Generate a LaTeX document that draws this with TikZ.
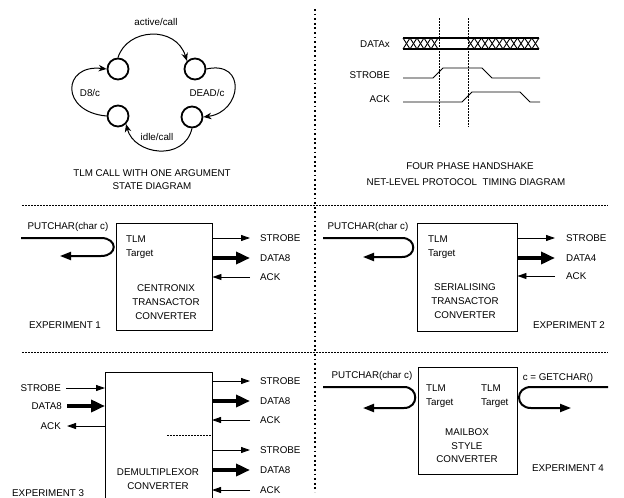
\documentclass[tikz,border=0pt]{standalone}
\usepackage{fontspec}
\setmainfont{Liberation Sans}
\usetikzlibrary{arrows.meta}
\newcommand{\lblfont}{\fontsize{9.8}{11}\selectfont}
\tikzset{
  lbl/.style={inner sep=0pt, text height=7pt, text depth=0pt, font=\lblfont},
  state/.style={circle, draw, line width=1.8pt, minimum size=21pt, inner sep=0pt},
  trans/.style={line width=1pt, -{Stealth[length=8pt,width=6.5pt]}},
  conv/.style={draw, line width=0.9pt, inner sep=0pt},
  thinarr/.style={line width=0.9pt, -{Triangle[length=9pt,width=6pt]}},
  thickarr/.style={line width=3.5pt, -{Triangle[length=14pt,width=12pt]}},
  uturn/.style={line width=2pt, -{Triangle[length=11pt,width=8pt]}},
  bigdots/.style={line width=1.8pt, dash pattern=on 1.8pt off 2.8pt},
  smalldots/.style={line width=0.9pt, dash pattern=on 1.5pt off 1.5pt},
  sig/.style={line width=0.9pt},
}
\begin{document}
\begin{tikzpicture}[x=1pt,y=-1pt]
\useasboundingbox (0,0) rectangle (624,498);

% ---------- dividers
\coordinate (vt) at (315,9);
\coordinate (vb) at (315,492);
\draw[bigdots] (vt) -- (vb);
\coordinate (h1l) at (22,205); \coordinate (h1r) at (608,205);
\coordinate (h2l) at (22,352); \coordinate (h2r) at (608,352);
\draw[smalldots] (h1l) -- (h1r);
\draw[smalldots] (h2l) -- (h2r);

% ---------- state diagram
\node[state] (c1) at (118,69) {};
\node[state] (c2) at (195,69) {};
\node[state] (c3) at (118,116) {};
\node[state] (c4) at (192,117) {};
\draw[trans] (c1.north) .. controls (127,28) and (176,25) .. (c2.north west);
\draw[trans] (c2.east) .. controls (247,60) and (242,112) .. (c4.east);
\draw[trans] (c4.south) .. controls (184,162) and (134,155) .. (c3.south east);
\draw[trans] (c3.west) .. controls (60,112) and (62,64) .. (c1.west);
\node[lbl] (l1) at (156,22) {active/call};
\node[lbl] (l2) at (207,93) {DEAD/c};
\node[lbl] (l3) at (90,93) {D8/c};
\node[lbl] (l4) at (157,137) {idle/call};
\node[lbl] (t1) at (152,173) {TLM CALL WITH ONE ARGUMENT};
\node[lbl] (t2) at (152,186) {STATE DIAGRAM};

% ---------- timing diagram
\node[lbl, anchor=east] (dx) at (390,44) {DATAx};
\node[lbl, anchor=east] (st) at (390,75) {STROBE};
\node[lbl, anchor=east] (ak) at (390,99) {ACK};
\draw[line width=1.2pt] (403,38) -- (539,38);
\draw[line width=1.2pt] (403,49) -- (539,49);
\foreach \a in {0,...,4}{
  \draw[line width=0.9pt] (403+7*\a,38) -- (410+7*\a,49);
  \draw[line width=0.9pt] (403+7*\a,49) -- (410+7*\a,38);
}
\foreach \a in {0,...,9}{
  \draw[line width=0.9pt] (467+7.2*\a,38) -- (474.2+7.2*\a,49);
  \draw[line width=0.9pt] (467+7.2*\a,49) -- (474.2+7.2*\a,38);
}
\draw[sig] (403,78) -- (433,78) -- (443,68) -- (482,68) -- (492,78) -- (540,78);
\draw[sig] (403,102) -- (462,102) -- (472,92) -- (520,92) -- (530,102) -- (540,102);
\coordinate (d1t) at (439,18); \coordinate (d1b) at (439,127);
\coordinate (d2t) at (468,18); \coordinate (d2b) at (468,127);
\draw[smalldots] (d1t) -- (d1b);
\draw[smalldots] (d2t) -- (d2b);
\node[lbl] (t3) at (470,166) {FOUR PHASE HANDSHAKE};
\node[lbl] (t4) at (466,182) {NET-LEVEL PROTOCOL\ \ TIMING DIAGRAM};

% ---------- experiment 1
\node[conv, minimum width=96pt, minimum height=107pt] (b1) at (164,276.5) {};
\node[lbl] (p1) at (68,226) {PUTCHAR(char c)};
\coordinate (u1s) at (21,238);
\coordinate (u1e) at (60,256);
\draw[uturn] (u1s) -- (101,238) .. controls (118,238) and (118,256) .. (101,256) -- (u1e);
\node[lbl, anchor=west] (tl1) at (126,239) {TLM};
\node[lbl, anchor=west] (tg1) at (126,253) {Target};
\node[lbl] (n11) at (166,288) {CENTRONIX};
\node[lbl] (n12) at (166,302) {TRANSACTOR};
\node[lbl] (n13) at (166,316) {CONVERTER};
\coordinate (a11) at (250,238);
\coordinate (a12) at (250,258);
\coordinate (a13) at (250,277);
\draw[thinarr] (b1.east |- a11) -- (a11);
\draw[thickarr] (b1.east |- a12) -- (a12);
\draw[thinarr] (a13) -- (b1.east |- a13);
\node[lbl, anchor=west] (s11) at (260,238) {STROBE};
\node[lbl, anchor=west] (s12) at (260,258) {DATA8};
\node[lbl, anchor=west] (s13) at (260,277) {ACK};
\node[lbl] (e1) at (65,325) {EXPERIMENT 1};

% ---------- experiment 2
\node[conv, minimum width=100pt, minimum height=108pt] (b2) at (467,277) {};
\node[lbl] (p2) at (368,226) {PUTCHAR(char c)};
\coordinate (u2s) at (323,238);
\coordinate (u2e) at (363,257);
\draw[uturn] (u2s) -- (402,238) .. controls (417,238) and (417,257) .. (402,257) -- (u2e);
\node[lbl, anchor=west] (tl2) at (428,239) {TLM};
\node[lbl, anchor=west] (tg2) at (428,253) {Target};
\node[lbl] (n21) at (465,287) {SERIALISING};
\node[lbl] (n22) at (465,301) {TRANSACTOR};
\node[lbl] (n23) at (465,315) {CONVERTER};
\coordinate (a21) at (555,238);
\coordinate (a22) at (555,258);
\coordinate (a23) at (555,276);
\draw[thinarr] (b2.east |- a21) -- (a21);
\draw[thickarr] (b2.east |- a22) -- (a22);
\draw[thinarr] (a23) -- (b2.east |- a23);
\node[lbl, anchor=west] (s21) at (566,238) {STROBE};
\node[lbl, anchor=west] (s22) at (566,258) {DATA4};
\node[lbl, anchor=west] (s23) at (566,276) {ACK};
\node[lbl] (e2) at (569,325) {EXPERIMENT 2};

% ---------- experiment 3
\coordinate (b3bl) at (105,500);
\coordinate (b3tl) at (105,372);
\coordinate (b3tr) at (212,372);
\coordinate (b3br) at (212,500);
\draw[line width=0.9pt] (b3bl) -- (b3tl) -- (b3tr) -- (b3br);
\node[lbl, anchor=east] (i1) at (61,388) {STROBE};
\node[lbl, anchor=east] (i2) at (62,406) {DATA8};
\node[lbl, anchor=east] (i3) at (61,426) {ACK};
\coordinate (ia1) at (66,388); \coordinate (ib1) at (105,388);
\coordinate (ia2) at (67,406); \coordinate (ib2) at (105,406);
\coordinate (ia3) at (67,426); \coordinate (ib3) at (105,426);
\draw[thinarr] (ia1) -- (ib1);
\draw[thickarr] (ia2) -- (ib2);
\draw[thinarr] (ib3) -- (ia3);
\foreach \y/\k/\t in {381/1/STROBE, 401/2/DATA8, 420/3/ACK, 450/4/STROBE, 470/5/DATA8, 490/6/ACK}{
  \coordinate (ob\k) at (212,\y);
  \coordinate (oa\k) at (250,\y);
  \node[lbl, anchor=west] (os\k) at (260,\y) {\t};
}
\draw[thinarr] (ob1) -- (oa1);
\draw[thickarr] (ob2) -- (oa2);
\draw[thinarr] (oa3) -- (ob3);
\draw[thinarr] (ob4) -- (oa4);
\draw[thickarr] (ob5) -- (oa5);
\draw[thinarr] (oa6) -- (ob6);
\coordinate (sp1) at (167,435); \coordinate (sp2) at (212,435);
\draw[smalldots] (sp1) -- (sp2);
\node[lbl] (n31) at (158,471.5) {DEMULTIPLEXOR};
\node[lbl] (n32) at (158,485.5) {CONVERTER};
\node[lbl, anchor=west] (e3) at (12,493) {EXPERIMENT 3};

% ---------- experiment 4
\node[conv, minimum width=99pt, minimum height=107pt] (b4) at (467.5,420.5) {};
\node[lbl] (p4) at (372,375) {PUTCHAR(char c)};
\node[lbl] (g4) at (558,377) {c = GETCHAR()};
\coordinate (u4s) at (323,387);
\coordinate (u4e) at (363,408);
\draw[uturn] (u4s) -- (404,387) .. controls (419,387) and (419,408) .. (404,408) -- (u4e);
\coordinate (u5s) at (608,387);
\coordinate (u5e) at (571,408);
\draw[uturn] (u5s) -- (531,387) .. controls (515,387) and (515,408) .. (531,408) -- (u5e);
\node[lbl, anchor=west] (tl4) at (426,388) {TLM};
\node[lbl, anchor=west] (tg4) at (426,402) {Target};
\node[lbl, anchor=west] (tl5) at (481,388) {TLM};
\node[lbl, anchor=west] (tg5) at (481,402) {Target};
\node[lbl] (n41) at (467,432) {MAILBOX};
\node[lbl] (n42) at (467,446) {STYLE};
\node[lbl] (n43) at (467,459) {CONVERTER};
\node[lbl] (e4) at (568,468) {EXPERIMENT 4};
\end{tikzpicture}
\end{document}
